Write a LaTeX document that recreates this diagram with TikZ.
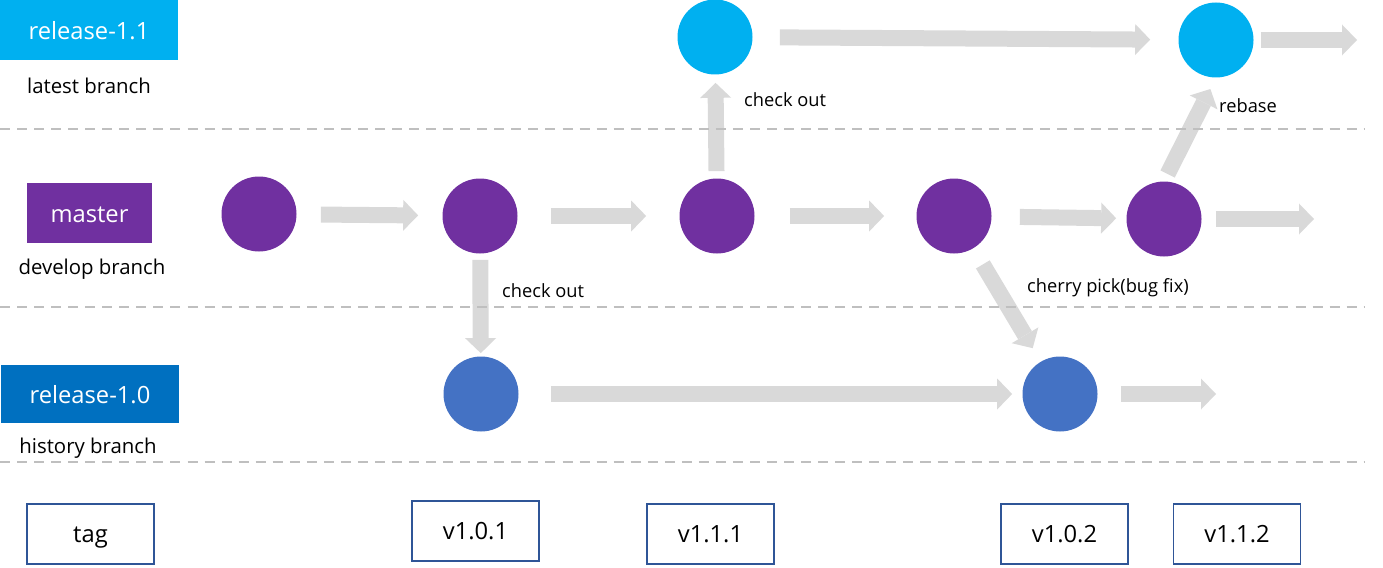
\documentclass[tikz,border=0pt]{standalone}
\usepackage{fontspec}
\setmainfont{Open Sans}
\usetikzlibrary{arrows.meta}
\definecolor{latestblue}{HTML}{00B0F0}
\definecolor{devpurple}{HTML}{7030A0}
\definecolor{histblue}{HTML}{0070C0}
\definecolor{commitblue}{HTML}{4472C4}
\definecolor{flowgray}{HTML}{D9D9D9}
\definecolor{lanegray}{HTML}{BFBFBF}
\definecolor{tagframe}{HTML}{2F5597}

\begin{document}
\begin{tikzpicture}[
  x=0.2mm, y=-0.2mm,
  commit/.style={circle, inner sep=0pt, minimum size=15mm},
  flow/.style={line width=3.2mm, draw=flowgray, -{Triangle[length=3mm, width=6.2mm, line width=0pt]}},
  lane/.style={draw=lanegray, line width=1.1pt, dash pattern=on 5.7pt off 4pt},
  branch/.style={text=white, minimum width=35.4mm, minimum height=12mm, inner sep=0pt, text height=11pt, text depth=0pt, font=\fontsize{13.5}{16}\selectfont},
  desc/.style={font=\fontsize{11.6}{14}\selectfont},
  note/.style={anchor=west, font=\fontsize{10.4}{12}\selectfont},
  tagbox/.style={draw=tagframe, line width=0.8pt, minimum width=25.4mm, minimum height=12mm, inner sep=0pt, text height=10pt, text depth=0pt, font=\fontsize{13.5}{16}\selectfont},
]
\useasboundingbox (0,0) rectangle (1383,568);

% Branch names
\node[branch, fill=latestblue] (rel11) at (89,30) {release-1.1};
\node[desc] (latest) at (89,86) {latest branch};
\node[branch, fill=devpurple, minimum width=25mm] (master) at (89.5,213) {master};
\node[desc] (develop) at (92,269) {develop branch};
\node[branch, fill=histblue, minimum height=11.6mm] (rel10) at (90,394) {release-1.0};
\node[desc] (history) at (88,448) {history branch};

% Commits
\node[commit, fill=latestblue] (c1) at (715,37) {};
\node[commit, fill=latestblue] (c2) at (1216,40) {};
\node[commit, fill=devpurple] (p1) at (259,214) {};
\node[commit, fill=devpurple] (p2) at (480,216) {};
\node[commit, fill=devpurple] (p3) at (717,216) {};
\node[commit, fill=devpurple] (p4) at (954,216) {};
\node[commit, fill=devpurple] (p5) at (1164,219) {};
\node[commit, fill=commitblue] (b1) at (481,394) {};
\node[commit, fill=commitblue] (b2) at (1060,394) {};
\coordinate (c3) at (1357,40);
\coordinate (p6) at (1314,219);
\coordinate (b3) at (1216,394);

% Flow
\draw[flow, shorten <=5.4mm, shorten >=5.6mm] (c1) -- (c2);
\draw[flow, shorten <=1.4mm] (c2) -- (c3);
\draw[flow, shorten <=4.8mm, shorten >=4.8mm] (p1) -- (p2);
\draw[flow, shorten <=6.6mm, shorten >=6.6mm] (p2) -- (p3);
\draw[flow, shorten <=7mm, shorten >=6.4mm] (p3) -- (p4);
\draw[flow, shorten <=5.6mm, shorten >=2mm] (p4) -- (p5);
\draw[flow, shorten <=2.8mm] (p5) -- (p6);
\draw[flow, shorten <=6.4mm, shorten >=2mm] (b1) -- (b2);
\draw[flow, shorten <=4.6mm] (b2) -- (b3);

% Check out, rebase, cherry pick
\draw[flow, shorten <=1.4mm, shorten >=1.6mm] (p3) -- (c1);
\draw[flow, shorten <=1.2mm, shorten >=0.6mm] (p2) -- (b1);
\draw[flow, shorten <=1.6mm, shorten >=2.5mm] (p5.north) -- (c2.south);
\draw[flow, shorten <=3.7mm, shorten >=3.1mm] (p4) -- (b2);
\node[note] (out11) at (738,100) {check out};
\node[note] (out10) at (496,291) {check out};
\node[note] (rebase) at (1213,106) {rebase};
\node[note] (cherry) at (1021,288) {cherry pick(bug fix)};

% Lanes
\draw[lane] (0,129) -- (1365,129);
\draw[lane] (0,307) -- (1365,307);
\draw[lane] (0,462) -- (1365,462);

% Tags
\node[tagbox] (tag) at (90.5,534) {tag};
\node[tagbox] (v101) at (475.5,531) {v1.0.1};
\node[tagbox] (v111) at (710.5,534) {v1.1.1};
\node[tagbox] (v102) at (1064.5,534) {v1.0.2};
\node[tagbox] (v112) at (1237,534) {v1.1.2};

\end{tikzpicture}
\end{document}
